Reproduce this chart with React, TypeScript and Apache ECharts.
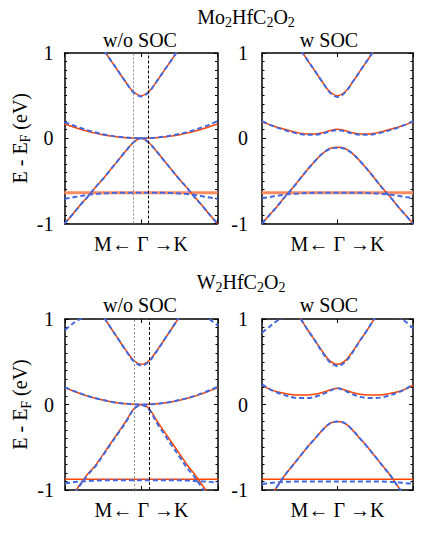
import React, { useEffect, useRef } from "react";
import * as echarts from "echarts";

// k-path coordinate: M (-1) <- Gamma (0) -> K (1)
const kPath = [-1, -0.9, -0.8, -0.7, -0.6, -0.5, -0.4, -0.3, -0.2, -0.1, 0, 0.1, 0.2, 0.3, 0.4, 0.5, 0.6, 0.7, 0.8, 0.9, 1];
const yTicks = [-1, 0, 1];
const gammaLines = [-0.1, 0.1];
const n = null;

// Mo2HfC2O2, w/o SOC
const moNoSocCbOrange = [n, n, n, n, 1.18, 1.05, 0.92, 0.79, 0.66, 0.545, 0.5, 0.545, 0.66, 0.79, 0.92, 1.05, 1.18, n, n, n, n];
const moNoSocCbBlue = [n, n, n, n, 1.18, 1.05, 0.92, 0.79, 0.66, 0.54, 0.49, 0.54, 0.66, 0.79, 0.92, 1.05, 1.18, n, n, n, n];
const moNoSocMidOrange = [0.167, 0.137, 0.108, 0.083, 0.06, 0.042, 0.027, 0.015, 0.007, 0.002, 0, 0.002, 0.007, 0.015, 0.027, 0.042, 0.06, 0.083, 0.108, 0.137, 0.167];
const moNoSocMidBlue = [0.19, 0.155, 0.124, 0.095, 0.07, 0.048, 0.031, 0.017, 0.008, 0.002, 0, 0.002, 0.008, 0.018, 0.032, 0.05, 0.072, 0.098, 0.128, 0.162, 0.2];
const moNoSocVbOrange = [-1.0, -0.9, -0.79, -0.69, -0.58, -0.48, -0.37, -0.26, -0.15, -0.05, 0, -0.05, -0.15, -0.26, -0.37, -0.48, -0.58, -0.69, -0.79, -0.9, -1.0];
const moNoSocVbBlue = [-1.0, -0.9, -0.79, -0.69, -0.58, -0.48, -0.37, -0.26, -0.15, -0.05, 0, -0.05, -0.15, -0.26, -0.37, -0.48, -0.58, -0.69, -0.79, -0.9, -1.0];
const moNoSocFlatOrange = [-0.64, -0.64, -0.64, -0.64, -0.64, -0.64, -0.64, -0.64, -0.64, -0.64, -0.64, -0.64, -0.64, -0.64, -0.64, -0.64, -0.64, -0.64, -0.64, -0.64, -0.64];
const moNoSocFlatBlue = [-0.71, -0.695, -0.68, -0.665, -0.655, -0.648, -0.643, -0.64, -0.64, -0.64, -0.64, -0.64, -0.64, -0.64, -0.643, -0.648, -0.655, -0.665, -0.68, -0.695, -0.71];

// Mo2HfC2O2, w SOC
const moSocCbOrange = [n, n, n, n, 1.18, 1.05, 0.92, 0.79, 0.66, 0.545, 0.5, 0.545, 0.66, 0.79, 0.92, 1.05, 1.18, n, n, n, n];
const moSocCbBlue = [n, n, n, n, 1.18, 1.05, 0.92, 0.79, 0.66, 0.535, 0.485, 0.535, 0.66, 0.79, 0.92, 1.05, 1.18, n, n, n, n];
const moSocMidOrange = [0.19, 0.16, 0.13, 0.105, 0.08, 0.06, 0.05, 0.05, 0.065, 0.09, 0.105, 0.09, 0.065, 0.05, 0.05, 0.06, 0.08, 0.105, 0.13, 0.16, 0.19];
const moSocMidBlue = [0.2, 0.16, 0.125, 0.095, 0.07, 0.05, 0.04, 0.04, 0.055, 0.08, 0.095, 0.08, 0.055, 0.04, 0.04, 0.05, 0.07, 0.095, 0.125, 0.16, 0.2];
const moSocVbOrange = [-1.0, -0.9, -0.8, -0.69, -0.59, -0.48, -0.37, -0.27, -0.18, -0.12, -0.105, -0.12, -0.18, -0.27, -0.37, -0.48, -0.59, -0.69, -0.8, -0.9, -1.0];
const moSocVbBlue = [-1.0, -0.9, -0.8, -0.69, -0.59, -0.48, -0.37, -0.27, -0.18, -0.125, -0.11, -0.125, -0.18, -0.27, -0.37, -0.48, -0.59, -0.69, -0.8, -0.9, -1.0];
const moSocFlatOrange = [-0.64, -0.64, -0.64, -0.64, -0.64, -0.64, -0.64, -0.64, -0.64, -0.64, -0.64, -0.64, -0.64, -0.64, -0.64, -0.64, -0.64, -0.64, -0.64, -0.64, -0.64];
const moSocFlatBlue = [-0.7, -0.69, -0.675, -0.662, -0.653, -0.647, -0.643, -0.64, -0.64, -0.64, -0.64, -0.64, -0.64, -0.64, -0.643, -0.647, -0.653, -0.662, -0.675, -0.69, -0.7];

// W2HfC2O2, w/o SOC
const wNoSocTopBlue = [0.87, 0.945, 1.0, 1.05, 1.09, n, n, n, n, n, n, n, n, n, n, n, 1.11, 1.08, 1.04, 0.99, 0.92];
const wNoSocCbOrange = [n, n, n, n, 1.17, 1.03, 0.895, 0.76, 0.63, 0.515, 0.47, 0.515, 0.63, 0.76, 0.895, 1.03, 1.17, n, n, n, n];
const wNoSocCbBlue = [n, n, n, n, 1.17, 1.03, 0.895, 0.76, 0.625, 0.505, 0.455, 0.505, 0.625, 0.76, 0.895, 1.03, 1.17, n, n, n, n];
const wNoSocMidOrange = [0.197, 0.16, 0.128, 0.098, 0.072, 0.05, 0.032, 0.018, 0.008, 0.002, 0, 0.002, 0.008, 0.018, 0.032, 0.05, 0.072, 0.098, 0.128, 0.162, 0.2];
const wNoSocMidBlue = [0.2, 0.163, 0.13, 0.1, 0.074, 0.052, 0.033, 0.018, 0.008, 0.002, 0, 0.002, 0.008, 0.019, 0.034, 0.053, 0.076, 0.103, 0.135, 0.17, 0.21];
const wNoSocVbOrange = [-1.18, -1.06, -0.93, -0.81, -0.71, -0.58, -0.45, -0.32, -0.19, -0.05, 0, -0.05, -0.19, -0.32, -0.45, -0.58, -0.71, -0.82, -0.95, -1.07, -1.19];
const wNoSocVbBlue = [-1.19, -1.07, -0.94, -0.82, -0.72, -0.59, -0.46, -0.33, -0.2, -0.055, -0.005, -0.06, -0.215, -0.35, -0.485, -0.615, -0.745, -0.855, -0.985, -1.1, -1.22];
const wNoSocFlatOrange = [-0.875, -0.875, -0.875, -0.875, -0.875, -0.875, -0.875, -0.875, -0.875, -0.875, -0.875, -0.875, -0.875, -0.875, -0.875, -0.875, -0.875, -0.875, -0.875, -0.875, -0.875];
const wNoSocFlatBlue = [-0.92, -0.91, -0.9, -0.895, -0.89, -0.887, -0.885, -0.885, -0.885, -0.885, -0.885, -0.885, -0.885, -0.885, -0.885, -0.887, -0.89, -0.895, -0.9, -0.905, -0.915];

// W2HfC2O2, w SOC
const wSocTopBlue = [0.84, 0.91, 0.98, 1.03, 1.08, n, n, n, n, n, n, n, n, n, n, n, 1.12, 1.08, 1.03, 0.97, 0.89];
const wSocCbOrange = [n, n, n, n, 1.16, 1.02, 0.88, 0.75, 0.62, 0.51, 0.47, 0.51, 0.62, 0.75, 0.88, 1.02, 1.16, n, n, n, n];
const wSocCbBlue = [n, n, n, n, 1.16, 1.02, 0.88, 0.75, 0.61, 0.495, 0.45, 0.495, 0.61, 0.75, 0.88, 1.02, 1.16, n, n, n, n];
const wSocMidOrange = [0.22, 0.18, 0.15, 0.13, 0.115, 0.11, 0.11, 0.12, 0.14, 0.17, 0.19, 0.17, 0.14, 0.12, 0.11, 0.11, 0.115, 0.13, 0.15, 0.18, 0.225];
const wSocMidBlue = [0.235, 0.18, 0.14, 0.11, 0.085, 0.075, 0.075, 0.09, 0.12, 0.16, 0.19, 0.16, 0.12, 0.09, 0.075, 0.075, 0.085, 0.11, 0.14, 0.18, 0.24];
const wSocVbOrange = [-1.2, -1.08, -0.96, -0.83, -0.72, -0.61, -0.5, -0.4, -0.3, -0.22, -0.2, -0.22, -0.3, -0.4, -0.5, -0.61, -0.72, -0.83, -0.96, -1.08, -1.2];
const wSocVbBlue = [-1.2, -1.08, -0.96, -0.83, -0.72, -0.61, -0.5, -0.4, -0.3, -0.22, -0.2, -0.22, -0.3, -0.4, -0.5, -0.61, -0.72, -0.83, -0.96, -1.08, -1.2];
const wSocFlatOrange = [-0.875, -0.875, -0.875, -0.875, -0.875, -0.875, -0.875, -0.875, -0.875, -0.875, -0.875, -0.875, -0.875, -0.875, -0.875, -0.875, -0.875, -0.875, -0.875, -0.875, -0.875];
const wSocFlatBlue = [-0.93, -0.92, -0.91, -0.905, -0.902, -0.9, -0.9, -0.9, -0.9, -0.9, -0.9, -0.9, -0.9, -0.9, -0.9, -0.9, -0.902, -0.905, -0.91, -0.92, -0.925];

const SERIF = "'Liberation Serif', 'DejaVu Serif', serif";
const ORANGE = "#ff4500";
const ORANGE_FLAT = "#ff8a62";
const BLUE = "#4169e1";

const rich = {
  a: { fontFamily: SERIF, fontSize: 20, color: "#000", lineHeight: 20 },
  s: { fontFamily: SERIF, fontSize: 14, color: "#000", lineHeight: 14, padding: [12, 0, 0, 0] },
};

const panels = [
  { left: 64.5, top: 53, width: 153, height: 170.5, labelMargin: 11, yName: true, gamma: true,
    bands: [
      [moNoSocCbOrange, moNoSocCbBlue], [moNoSocMidOrange, moNoSocMidBlue], [moNoSocVbOrange, moNoSocVbBlue],
    ], flat: [moNoSocFlatOrange, moNoSocFlatBlue], flatWide: true, top1: null },
  { left: 262, top: 53, width: 151, height: 170.5, labelMargin: 14, yName: false, gamma: false,
    bands: [
      [moSocCbOrange, moSocCbBlue], [moSocMidOrange, moSocMidBlue], [moSocVbOrange, moSocVbBlue],
    ], flat: [moSocFlatOrange, moSocFlatBlue], flatWide: true, top1: null },
  { left: 65, top: 319, width: 153, height: 171, labelMargin: 11, yName: true, gamma: true,
    bands: [
      [wNoSocCbOrange, wNoSocCbBlue], [wNoSocMidOrange, wNoSocMidBlue], [wNoSocVbOrange, wNoSocVbBlue],
    ], flat: [wNoSocFlatOrange, wNoSocFlatBlue], flatWide: false, top1: wNoSocTopBlue },
  { left: 262, top: 319, width: 151, height: 171, labelMargin: 14, yName: false, gamma: false,
    bands: [
      [wSocCbOrange, wSocCbBlue], [wSocMidOrange, wSocMidBlue], [wSocVbOrange, wSocVbBlue],
    ], flat: [wSocFlatOrange, wSocFlatBlue], flatWide: false, top1: wSocTopBlue },
];

function pairs(ys: (number | null)[]) {
  return kPath.map((x, i) => [x, ys[i]]);
}

function buildOption() {
  const grid: any[] = [];
  const xAxis: any[] = [];
  const yAxis: any[] = [];
  const series: any[] = [];
  const axisLine = { show: true, onZero: false, lineStyle: { color: "#000", width: 1.5 } };
  panels.forEach((p, i) => {
    grid.push({ left: p.left, top: p.top, width: p.width, height: p.height, show: false });
    ["bottom", "top"].forEach((pos) => {
      xAxis.push({
        gridIndex: i, type: "value", position: pos, min: -1, max: 1, interval: 1,
        axisLine, axisTick: { show: true, inside: true, length: 4, lineStyle: { color: "#000", width: 1 } },
        axisLabel: { show: false }, splitLine: { show: false },
        name: pos === "bottom" ? "M\u2190 \u0393 \u2192K" : "",
        nameLocation: "middle", nameGap: 10,
        nameTextStyle: { fontFamily: SERIF, fontSize: 20, color: "#000" },
      });
    });
    ["left", "right"].forEach((pos) => {
      yAxis.push({
        gridIndex: i, type: "value", position: pos, min: yTicks[0], max: yTicks[yTicks.length - 1], interval: 1,
        axisLine, axisTick: { show: true, inside: true, length: 4, lineStyle: { color: "#000", width: 1 } },
        minorTick: { show: true, splitNumber: 10, length: 2.5, lineStyle: { color: "#000", width: 1 } },
        axisLabel: { show: pos === "left", margin: p.labelMargin, fontFamily: SERIF, fontSize: 20, color: "#000" },
        splitLine: { show: false },
        name: pos === "left" && p.yName ? "{a|E - E}{s|F}{a| (eV)}" : "",
        nameLocation: "middle", nameRotate: 90, nameGap: 32,
        nameTextStyle: { rich },
      });
    });
    const xi = i * 2;
    const yi = i * 2;
    const line = (data: any, color: string, width: number, dashed: boolean, extra: any = {}) => ({
      type: "line", xAxisIndex: xi, yAxisIndex: yi, data: pairs(data), smooth: 0.35, showSymbol: false, symbol: "none",
      lineStyle: { color, width, type: dashed ? [5, 3] : "solid" }, clip: true, silent: true, ...extra,
    });
    if (p.gamma) {
      series.push({
        type: "line", xAxisIndex: xi, yAxisIndex: yi, data: [], silent: true,
        markLine: {
          symbol: "none", silent: true, label: { show: false }, animation: false,
          data: [
            { xAxis: gammaLines[0], lineStyle: { color: "#888", width: 1, type: [2, 2] } },
            { xAxis: gammaLines[1], lineStyle: { color: "#000", width: 1, type: [3, 2] } },
          ],
        },
      });
    }
    series.push(line(p.flat[0], p.flatWide ? ORANGE_FLAT : ORANGE, p.flatWide ? 3 : 1.5, false));
    p.bands.forEach((b) => series.push(line(b[0], ORANGE, 1.5, false)));
    if (p.top1) series.push(line(p.top1, BLUE, 2, true));
    p.bands.forEach((b) => series.push(line(b[1], BLUE, 2, true)));
    series.push(line(p.flat[1], BLUE, 2, true));
  });

  const textEl = (text: string, x: number, y: number) => ({
    type: "text", x, y, silent: true,
    style: {
      text, align: "center", verticalAlign: "middle", textAlign: "center", textVerticalAlign: "middle",
      fontFamily: SERIF, fontSize: 20, fill: "#000", rich,
    },
  });
  const graphic = [
    textEl("{a|Mo}{s|2}{a|HfC}{s|2}{a|O}{s|2}", 246, 16.5),
    textEl("{a|w/o SOC}", 140, 40),
    textEl("{a|w SOC}", 329, 40),
    textEl("{a|W}{s|2}{a|HfC}{s|2}{a|O}{s|2}", 241, 281.5),
    textEl("{a|w/o SOC}", 140, 304.5),
    textEl("{a|w SOC}", 329, 304.5),
  ];

  return { animation: false, backgroundColor: "#fff", grid, xAxis, yAxis, series, graphic };
}

export default function App() {
  const ref = useRef<HTMLDivElement>(null);
  useEffect(() => {
    if (!ref.current) return;
    const chart = echarts.init(ref.current, null, { renderer: "svg" });
    chart.setOption(buildOption() as any);
    return () => chart.dispose();
  }, []);
  return <div ref={ref} style={{ position: "fixed", left: 0, top: 0, width: 436, height: 533, background: "#fff" }} />;
}
